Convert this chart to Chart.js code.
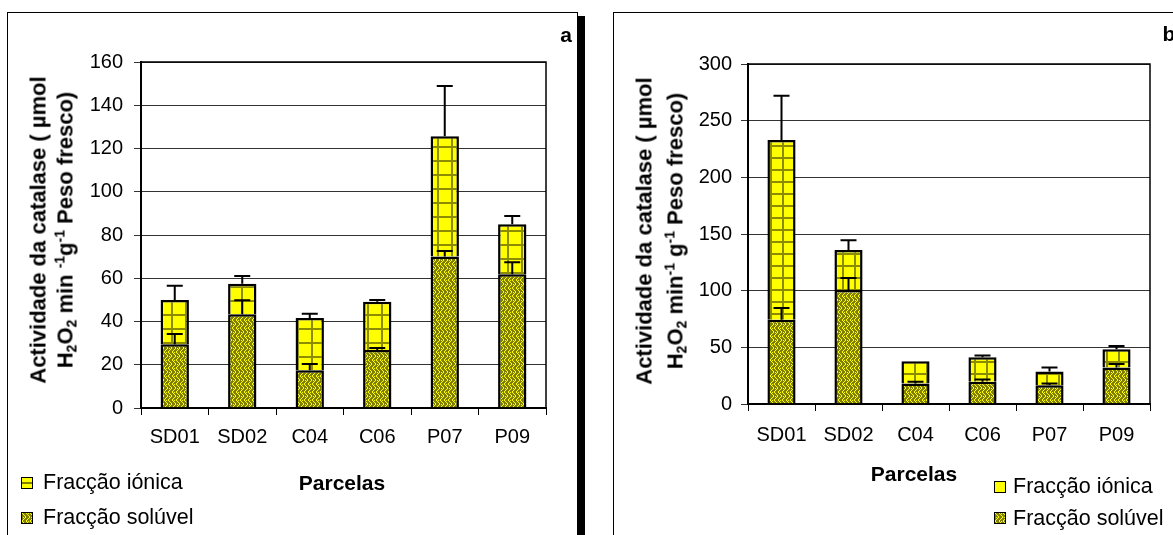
<!DOCTYPE html>
<html>
<head>
<meta charset="utf-8">
<script src="https://cdn.jsdelivr.net/npm/chart.js@4.4.1/dist/chart.umd.min.js"></script>
<style>
  body { margin: 0; width: 1173px; height: 535px; overflow: hidden; background: #fff; position: relative;
         font-family: "Liberation Sans", Arial, sans-serif; color: #000; }
  .frame { position: absolute; border: 1px solid #000; box-sizing: border-box; }
  #frameA { left: 7px; top: 12px; width: 571px; height: 600px; box-shadow: 7px 4px 0 #000; }
  #frameB { left: 613px; top: 12px; width: 600px; height: 600px; }
  canvas.chart { position: absolute; top: 0; }
  .ytitle { position: absolute; transform: translate(-50%, -50%) rotate(-90deg); white-space: nowrap;
            text-align: center; font-weight: bold; font-size: 22px; }
  .ytitle sub, .ytitle sup { font-size: 14px; vertical-align: baseline; position: relative; }
  .ytitle sub { top: 0.3em; }
  .ytitle sup { top: -0.55em; }
  .txt { position: absolute; font-weight: bold; font-size: 21px; transform: translate(-50%, -50%); white-space: nowrap; }
  .legend { position: absolute; font-size: 21.5px; white-space: nowrap; }
  .legend .row { display: flex; align-items: center; }
  .legend .row canvas { border: 1px solid #000; }
</style>
</head>
<body>
<div class="frame" id="frameA"></div>
<div class="frame" id="frameB"></div>

<canvas class="chart" id="chartA" width="590" height="535" style="left:0"></canvas>
<canvas class="chart" id="chartB" width="583" height="535" style="left:590px"></canvas>

<div class="ytitle" style="left:53px; top:230px; line-height:27px">Actividade da catalase ( µmol<br>H<sub>2</sub>O<sub>2</sub> min <sup>-1</sup>g<sup>-1</sup> Peso fresco)</div>
<div class="ytitle" style="left:661px; top:231px; line-height:31px">Actividade da catalase ( µmol<br>H<sub>2</sub>O<sub>2</sub> min<sup>-1</sup> g<sup>-1</sup> Peso fresco)</div>

<div class="txt" style="left:342px; top:483px">Parcelas</div>
<div class="txt" style="left:914px; top:474px">Parcelas</div>
<div class="txt" style="left:566px; top:35px">a</div>
<div class="txt" style="left:1169px; top:34px">b</div>

<div class="legend" id="legendA" style="left:21px; top:465px"></div>
<div class="legend" id="legendB" style="left:994px; top:471px"></div>

<script>
// categories
const parcelas = ['SD01', 'SD02', 'C04', 'C06', 'P07', 'P09'];

// panel a
const solA    = [29.5, 43.4, 17.5, 26.8, 70.1, 61.9];
const ionA    = [20.5, 14.0, 24.1, 22.3, 55.6, 23.1];
const errSolA = [4.7, 6.4, 2.8, 0.9, 2.5, 5.5];
const errIonA = [6.5, 3.6, 2.0, 0.8, 23.2, 3.8];
const yMaxA = 160, yStepA = 20;

// panel b
const solB    = [74.4, 100.6, 18.1, 19.6, 16.6, 32.2];
const ionB    = [158.6, 35.3, 19.6, 21.6, 12.0, 16.0];
const errSolB = [10.3, 10.6, 1.5, 2.1, 1.5, 3.0];
const errIonB = [39.0, 8.6, 0, 1.5, 3.6, 3.0];
const yMaxB = 300, yStepB = 50;

Chart.defaults.font.family = '"Liberation Sans", Arial, sans-serif';
Chart.defaults.color = '#000';

// yellow with olive grid ("Fracção iónica")
function gridPattern(size, ox, oy) {
    const c = document.createElement('canvas');
    c.width = c.height = size;
    const g = c.getContext('2d');
    g.fillStyle = '#ffff00';
    g.fillRect(0, 0, size, size);
    g.fillStyle = '#8c8c00';
    g.fillRect(ox, 0, 2, size);
    g.fillRect(0, oy, size, 2);
    return g.createPattern(c, 'repeat');
}

// olive with yellow zigzag ("Fracção solúvel")
function weavePattern() {
    const c = document.createElement('canvas');
    c.width = c.height = 8;
    const g = c.getContext('2d');
    g.fillStyle = '#808000';
    g.fillRect(0, 0, 8, 8);
    g.fillStyle = '#ffff00';
    for (let y = 0; y < 8; y++) {
        const d = y < 4 ? y : 7 - y;
        g.fillRect(d, y, 1, 1);
        g.fillRect((d + 4) % 8, y, 1, 1);
        if (y % 4 === 0) g.fillRect((d + 6) % 8, y, 1, 1);
    }
    return g.createPattern(c, 'repeat');
}

const errorBars = {
    id: 'errorBars',
    afterDatasetsDraw(chart) {
        const ctx = chart.ctx;
        const y = chart.scales.y;
        const sets = chart.data.datasets;
        ctx.save();
        ctx.strokeStyle = '#000';
        ctx.lineWidth = 2;
        sets.forEach((ds, i) => {
            chart.getDatasetMeta(i).data.forEach((bar, j) => {
                const e = ds.errors[j];
                if (!e) return;
                let top = 0;
                for (let k = 0; k <= i; k++) top += sets[k].data[j];
                const y0 = y.getPixelForValue(top);
                const y1 = y.getPixelForValue(top + e);
                ctx.beginPath();
                ctx.moveTo(bar.x, y0);
                ctx.lineTo(bar.x, y1);
                ctx.moveTo(bar.x - 8, y1);
                ctx.lineTo(bar.x + 8, y1);
                ctx.stroke();
            });
        });
        ctx.restore();
    }
};

const plotFrame = {
    id: 'plotFrame',
    afterDraw(chart) {
        const a = chart.chartArea;
        const ctx = chart.ctx;
        ctx.save();
        ctx.strokeStyle = '#000';
        ctx.lineWidth = 1.5;
        ctx.strokeRect(a.left, a.top, a.right - a.left, a.bottom - a.top);
        ctx.restore();
    }
};

function makePanel(id, sol, ion, errSol, errIon, yMax, yStep, ionFill, geo) {
    return new Chart(document.getElementById(id), {
        type: 'bar',
        data: {
            labels: parcelas,
            datasets: [
                { label: 'Fracção solúvel', data: sol, errors: errSol, backgroundColor: weavePattern(),
                  borderColor: '#000', borderWidth: 2.5 },
                { label: 'Fracção iónica', data: ion, errors: errIon, backgroundColor: ionFill,
                  borderColor: '#000', borderWidth: 2.5 }
            ]
        },
        options: {
            responsive: false,
            animation: false,
            devicePixelRatio: 1,
            categoryPercentage: 1,
            barPercentage: 0.42,
            layout: { padding: { top: geo.top, right: geo.right, left: 0, bottom: 0 } },
            plugins: { legend: { display: false }, tooltip: { enabled: false } },
            scales: {
                x: {
                    stacked: true,
                    grid: { drawOnChartArea: false, tickLength: 7, color: '#000' },
                    border: { color: '#000', width: 2 },
                    ticks: { font: { size: 20 }, padding: geo.xPad, maxRotation: 0 },
                    afterFit(s) { s.height = geo.xh; }
                },
                y: {
                    stacked: true,
                    min: 0,
                    max: yMax,
                    ticks: { stepSize: yStep, font: { size: 20 }, padding: geo.yPad },
                    grid: { color: '#333', tickLength: 7 },
                    border: { color: '#000', width: 2 },
                    afterFit(s) { s.width = geo.yw; }
                }
            }
        },
        plugins: [errorBars, plotFrame]
    });
}

const chartA = makePanel('chartA', solA, ionA, errSolA, errIonA, yMaxA, yStepA, gridPattern(14, 3, 6),
    { top: 62, right: 44, yw: 141, xh: 127, yPad: 11, xPad: 10 });
const chartB = makePanel('chartB', solB, ionB, errSolB, errIonB, yMaxB, yStepB, gridPattern(12, 0, 1),
    { top: 64, right: 23, yw: 158, xh: 131, yPad: 9, xPad: 12 });

// legends built from the datasets, iónica listed first
function buildLegend(chart, el, rowH, gap, ionLine) {
    chart.data.datasets.slice().reverse().forEach(ds => {
        const row = document.createElement('div');
        row.className = 'row';
        row.style.height = rowH + 'px';
        const sw = document.createElement('canvas');
        sw.width = sw.height = 10;
        sw.style.marginRight = gap + 'px';
        const g = sw.getContext('2d');
        if (ds.label === 'Fracção iónica') {
            g.fillStyle = '#ffff00';
            g.fillRect(0, 0, 10, 10);
            if (ionLine) { g.fillStyle = '#808000'; g.fillRect(0, 4, 10, 2); }
        } else {
            g.fillStyle = weavePattern();
            g.fillRect(0, 0, 10, 10);
        }
        row.appendChild(sw);
        row.appendChild(document.createTextNode(ds.label));
        el.appendChild(row);
    });
}
buildLegend(chartA, document.getElementById('legendA'), 35, 10, true);
buildLegend(chartB, document.getElementById('legendB'), 31.5, 7, false);
</script>
</body>
</html>
